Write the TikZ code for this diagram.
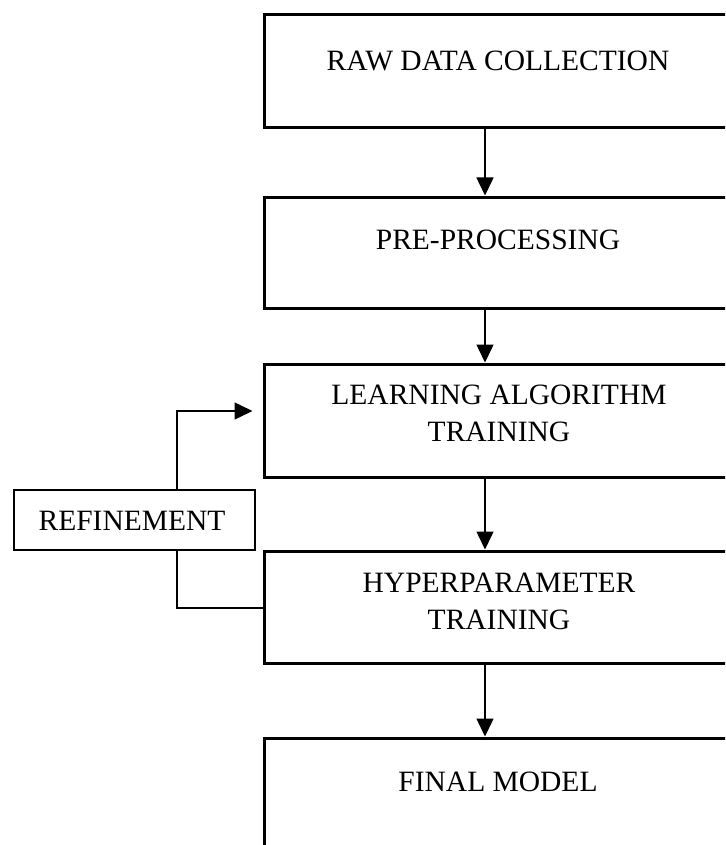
\documentclass[tikz,border=0pt]{standalone}
\usepackage{fontspec}
\setmainfont{Liberation Serif}
\usetikzlibrary{arrows.meta}
\begin{document}
\begin{tikzpicture}[x=1pt,y=-1pt,
  bigbox/.style={draw=black, line width=3pt, minimum width=471pt, inner sep=0pt},
  refbox/.style={draw=black, line width=1.8pt, minimum width=241pt, minimum height=60pt, inner sep=0pt},
  lbl/.style={font=\fontsize{29.5}{37}\selectfont, align=center, inner sep=0pt},
  conn/.style={line width=1.5pt},
  arr/.style={conn, -{Triangle[length=18pt,width=17pt]}}]
\useasboundingbox (0,0) rectangle (725,845);
\clip (0,0) rectangle (725,845);
\fill[white] (0,0) rectangle (725,845);
% boxes
\node[bigbox, minimum height=113pt] (b1) at (499.5,71.5) {};
\node[bigbox, minimum height=111pt] (b2) at (499.5,252.5) {};
\node[bigbox, minimum height=113pt] (b3) at (499.5,420.5) {};
\node[bigbox, minimum height=112pt] (b4) at (499.5,607) {};
\node[bigbox, minimum height=117pt] (b5) at (499.5,796.5) {};
\node[refbox] (ref) at (134.5,520) {};
% labels
\node[lbl] (t1) at (498,61) {RAW DATA COLLECTION};
\node[lbl] (t2) at (498,240) {PRE-PROCESSING};
\node[lbl] (t3) at (499,413.5) {LEARNING ALGORITHM\\TRAINING};
\node[lbl] (t4) at (499,601) {HYPERPARAMETER\\TRAINING};
\node[lbl] (t5) at (498,782) {FINAL MODEL};
\node[lbl] (tr) at (132,521) {REFINEMENT};
% helper coordinates
\coordinate (ax) at (485,0);
\coordinate (rx) at (177,0);
\coordinate (ry) at (0,411);
\coordinate (ry2) at (0,608);
% connectors
\draw[arr] (b1.south -| ax) -- (b2.north -| ax);
\draw[arr] (b2.south -| ax) -- (b3.north -| ax);
\draw[arr] (b3.south -| ax) -- (b4.north -| ax);
\draw[arr] (b4.south -| ax) -- (b5.north -| ax);
\draw[arr, shorten >=10pt] (ref.north -| rx) |- (b3.west |- ry);
\draw[conn] (ref.south -| rx) |- (b4.west |- ry2);
\end{tikzpicture}
\end{document}
